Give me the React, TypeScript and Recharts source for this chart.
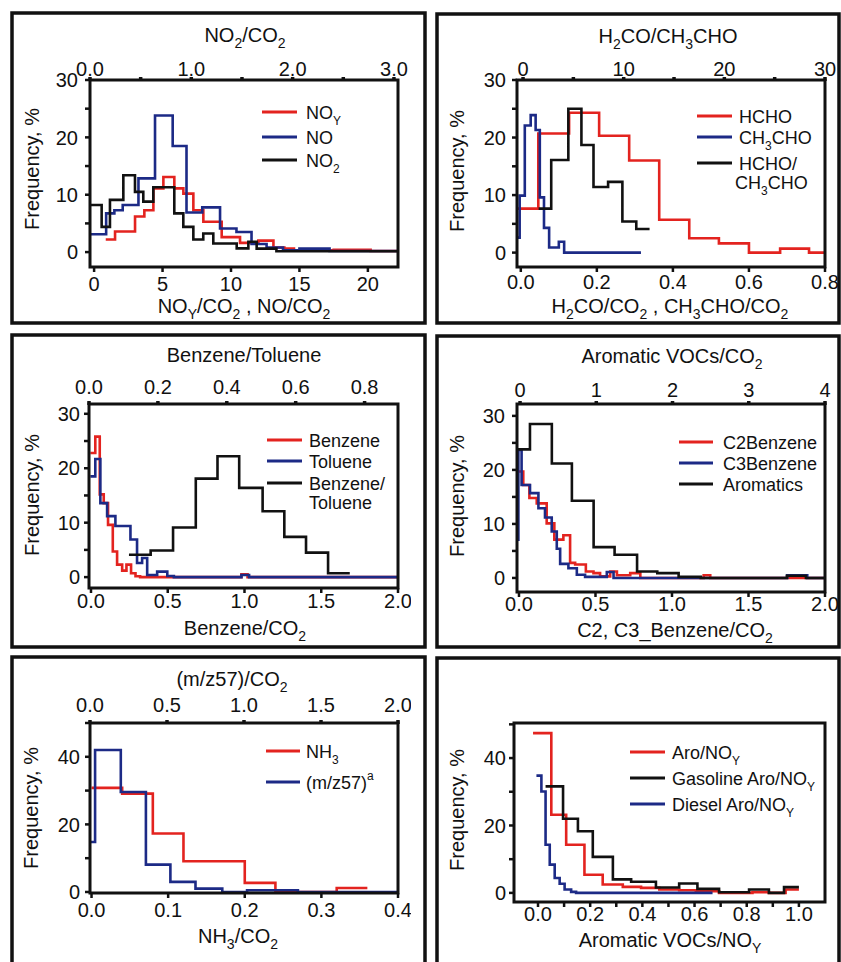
import React from "react"
import { LineChart, Line, XAxis, YAxis } from "recharts"

const FONT = "'Liberation Sans', Arial, Helvetica, sans-serif"
const RED = "#e3231f"
const BLUE = "#1c2a86"
const BLACK = "#111111"

// ---- panel 1: NOy, NO (bottom axis), NO2 (top axis)
const noyEdges = [0.85, 1.53, 2.99, 3.67, 4.33, 5.06, 5.86, 6.52, 7.25, 7.98, 9.32, 10.66, 12.0, 13.1, 13.9, 14.6, 17.5, 20.2, 22.2]
const noyFreq = [2.2, 3.6, 6.2, 7.3, 11.1, 13.1, 11.1, 10.2, 7.3, 5.3, 2.6, 1.6, 2.0, 0.8, 0.6, 0.3, 0.4, 0.2]
const noEdges = [-0.3, 0.88, 1.48, 2.09, 3.24, 4.45, 5.74, 6.75, 7.9, 9.2, 10.4, 11.5, 12.6, 13.8, 15.0, 17.2, 22.2]
const noFreq = [3.1, 6.75, 7.3, 8.2, 12.85, 23.8, 18.5, 6.9, 7.8, 4.1, 3.5, 1.4, 0.8, 0.3, 0.6, 0.2]
const no2Edges = [0, 0.115, 0.197, 0.329, 0.444, 0.526, 0.625, 0.832, 0.921, 1.02, 1.118, 1.217, 1.448, 1.563, 1.645, 1.84, 3.04]
const no2Freq = [8.2, 4.4, 9.1, 13.4, 10.5, 8.8, 11.3, 6.75, 4.4, 2.2, 3.25, 1.5, 0.65, 1.8, 0.6, 0.15]

// ---- panel 2: HCHO, CH3CHO (bottom), HCHO/CH3CHO (top)
const hchoEdges = [-0.01, 0.046, 0.127, 0.206, 0.285, 0.364, 0.443, 0.521, 0.6, 0.682, 0.758, 0.8]
const hchoFreq = [7.65, 20.7, 24.3, 20.3, 16.0, 5.7, 2.5, 1.6, 0, 0.7, 0]
const acetEdges = [-0.008, -0.003, 0.0105, 0.026, 0.039, 0.05, 0.061, 0.0745, 0.1, 0.114, 0.316]
const acetFreq = [2.6, 9.9, 22.1, 23.9, 21.3, 9.6, 4.3, 0.9, 1.9, 0]
const hcRatioEdges = [1.55, 2.8, 4.5, 5.8, 7.0, 8.45, 9.87, 11.25, 12.57]
const hcRatioFreq = [7.65, 16.1, 25.0, 18.7, 11.4, 12.3, 5.4, 4.1]

// ---- panel 3: Benzene, Toluene (bottom), Benzene/Toluene (top)
const benzEdges = [-0.004, 0.028, 0.057, 0.083, 0.111, 0.142, 0.17, 0.203, 0.231, 0.261, 0.29, 0.32, 0.98, 1.02, 2.0]
const benzFreq = [22.8, 25.8, 15.2, 13.6, 9.6, 4.7, 2.3, 1.2, 2.3, 0.7, 0.15, 0, 0.5, 0]
const toluEdges = [-0.004, 0.028, 0.061, 0.105, 0.159, 0.257, 0.3, 0.333, 0.366, 0.431, 0.497, 0.54, 0.98, 1.03, 2.0]
const toluFreq = [18.5, 21.7, 13.6, 11.2, 9.4, 6.9, 2.6, 3.5, 0.4, 1.0, 0.2, 0, 0.4, 0]
const btEdges = [0.116, 0.179, 0.244, 0.31, 0.373, 0.436, 0.504, 0.567, 0.63, 0.694, 0.757]
const btFreq = [4.1, 4.9, 9.1, 18.1, 22.2, 16.4, 12.1, 7.4, 4.5, 0.7]

// ---- panel 4: C2, C3 benzenes (bottom), aromatics (top)
const c2Edges = [0.0, 0.028, 0.068, 0.116, 0.181, 0.231, 0.29, 0.334, 0.367, 0.437, 0.487, 0.53, 0.596, 0.64, 0.727, 0.793, 1.207, 1.25, 2.0]
const c2Freq = [19.7, 17.2, 14.8, 13.8, 10.1, 7.1, 7.9, 2.8, 2.5, 1.2, 0.9, 0.3, 1.2, 0.5, 0.9, 0, 0.5, 0]
const c3Edges = [-0.012, -0.004, 0.017, 0.072, 0.127, 0.17, 0.214, 0.247, 0.269, 0.323, 0.378, 0.432, 0.574, 0.618, 1.753, 1.884, 2.0]
const c3Freq = [7.1, 23.7, 17.2, 15.7, 12.9, 11.2, 8.6, 5.4, 2.6, 1.8, 0.6, 0.2, 1.1, 0, 0.5, 0]
const aroEdges = [-0.035, 0.13, 0.417, 0.68, 0.965, 1.24, 1.535, 1.8, 2.08, 2.37, 3.5, 3.75, 4.0]
const aroFreq = [23.8, 28.5, 21.2, 14.3, 5.7, 4.3, 1.2, 0.9, 0.2, 0, 0.4, 0]

// ---- panel 5: NH3 (bottom), m/z57 (top)
const nh3Edges = [0, 0.04, 0.08, 0.12, 0.2, 0.24, 0.32, 0.36]
const nh3Freq = [30.8, 29.1, 17.3, 9.1, 2.7, 0, 1.2]
const mzEdges = [0, 0.033, 0.2, 0.363, 0.522, 0.685, 0.859, 1.02, 1.35, 2.0]
const mzFreq = [14.8, 42.0, 29.6, 8.1, 3.0, 1.0, 0, 0.5, 0]

// ---- panel 6: aromatics / NOy
const aroNoyEdges = [-0.019, 0.051, 0.108, 0.178, 0.248, 0.325, 0.395, 0.465, 0.541, 0.605, 0.694, 0.822, 0.885, 0.949, 1.0]
const aroNoyFreq = [47.4, 23.2, 14.3, 5.4, 2.5, 1.8, 1.5, 1.0, 0.8, 0.5, 0, 0.2, 0, 1.0]
const gasEdges = [0.029, 0.096, 0.153, 0.21, 0.287, 0.357, 0.452, 0.541, 0.611, 0.694, 0.809, 0.885, 0.943, 1.0]
const gasFreq = [31.6, 22.0, 18.3, 10.7, 4.0, 3.3, 1.6, 2.8, 1.2, 0.2, 1.0, 0.0, 1.7]
const dieselEdges = [-0.006, 0.013, 0.029, 0.045, 0.064, 0.083, 0.102, 0.127, 0.146, 0.669]
const dieselFreq = [34.8, 30.1, 14.3, 8.4, 4.4, 2.7, 1.0, 0.3, 0]

// ---- ticks
const freq30Ticks = [0, 5, 10, 15, 20, 25, 30]
const freq30Labels = [0, 10, 20, 30]
const freq50Ticks = [0, 10, 20, 30, 40, 50]
const freq50Labels = [0, 20, 40]
const p1BottomTicks = [0, 5, 10, 15, 20]
const p1TopTicks = [0, 0.5, 1, 1.5, 2, 2.5, 3]
const p1TopLabels = [0, 1, 2, 3]
const p2BottomTicks = [0, 0.2, 0.4, 0.6, 0.8]
const p2TopTicks = [0, 5, 10, 15, 20, 25, 30]
const p2TopLabels = [0, 10, 20, 30]
const halfTicks2 = [0, 0.5, 1, 1.5, 2]
const p3TopTicks = [0, 0.2, 0.4, 0.6, 0.8]
const p4TopTicks = [0, 1, 2, 3, 4]
const p5BottomTicks = [0, 0.1, 0.2, 0.3, 0.4]
const p6BottomTicks = [0, 0.1, 0.2, 0.3, 0.4, 0.5, 0.6, 0.7, 0.8, 0.9, 1.0]
const p6BottomLabels = [0, 0.2, 0.4, 0.6, 0.8, 1.0]

type Pt = { x: number; y: number }
function toSteps(edges: number[], freq: number[]): Pt[] {
  const pts = freq.map((f, i) => ({ x: edges[i], y: f }))
  pts.push({ x: edges[edges.length - 1], y: freq[freq.length - 1] })
  return pts
}

const f1 = (v: number) => v.toFixed(1)
const int = (v: number) => String(Math.round(v))

type AxisCfg = { domain: [number, number]; ticks: number[]; labels: number[]; fmt: (v: number) => string; gap: number }
type Series = { name: string; color: string; axis: "top" | "bottom"; data: Pt[] }
type PanelCfg = {
  plot: { left: number; top: number; right: number; bottom: number }
  xBottom: AxisCfg
  xTop?: AxisCfg
  y: AxisCfg
  series: Series[]
}

const panels: PanelCfg[] = [
  {
    plot: { left: 90, top: 80, right: 398, bottom: 267 },
    xBottom: { domain: [-0.3, 22.2], ticks: p1BottomTicks, labels: p1BottomTicks, fmt: int, gap: 10 },
    xTop: { domain: [0, 3.04], ticks: p1TopTicks, labels: p1TopLabels, fmt: f1, gap: 4 },
    y: { domain: [-2.6, 30], ticks: freq30Ticks, labels: freq30Labels, fmt: int, gap: 12 },
    series: [
      { name: "NOy", color: RED, axis: "bottom", data: toSteps(noyEdges, noyFreq) },
      { name: "NO", color: BLUE, axis: "bottom", data: toSteps(noEdges, noFreq) },
      { name: "NO2", color: BLACK, axis: "top", data: toSteps(no2Edges, no2Freq) },
    ],
  },
  {
    plot: { left: 517, top: 80, right: 825, bottom: 267 },
    xBottom: { domain: [-0.01, 0.8], ticks: p2BottomTicks, labels: p2BottomTicks, fmt: f1, gap: 8 },
    xTop: { domain: [-0.6, 30], ticks: p2TopTicks, labels: p2TopLabels, fmt: int, gap: 4 },
    y: { domain: [-2.5, 30], ticks: freq30Ticks, labels: freq30Labels, fmt: int, gap: 11 },
    series: [
      { name: "HCHO", color: RED, axis: "bottom", data: toSteps(hchoEdges, hchoFreq) },
      { name: "CH3CHO", color: BLUE, axis: "bottom", data: toSteps(acetEdges, acetFreq) },
      { name: "HCHO/CH3CHO", color: BLACK, axis: "top", data: toSteps(hcRatioEdges, hcRatioFreq) },
    ],
  },
  {
    plot: { left: 89, top: 404, right: 398, bottom: 588 },
    xBottom: { domain: [-0.013, 2.0], ticks: halfTicks2, labels: halfTicks2, fmt: f1, gap: 6 },
    xTop: { domain: [0, 0.897], ticks: p3TopTicks, labels: p3TopTicks, fmt: f1, gap: 10 },
    y: { domain: [-2, 31.8], ticks: freq30Ticks, labels: freq30Labels, fmt: int, gap: 9 },
    series: [
      { name: "Benzene", color: RED, axis: "bottom", data: toSteps(benzEdges, benzFreq) },
      { name: "Toluene", color: BLUE, axis: "bottom", data: toSteps(toluEdges, toluFreq) },
      { name: "Benzene/Toluene", color: BLACK, axis: "top", data: toSteps(btEdges, btFreq) },
    ],
  },
  {
    plot: { left: 517, top: 404, right: 825, bottom: 592 },
    xBottom: { domain: [-0.013, 2.0], ticks: halfTicks2, labels: halfTicks2, fmt: f1, gap: 5 },
    xTop: { domain: [-0.04, 4.0], ticks: p4TopTicks, labels: p4TopTicks, fmt: int, gap: 7 },
    y: { domain: [-2.6, 32.2], ticks: freq30Ticks, labels: freq30Labels, fmt: int, gap: 12 },
    series: [
      { name: "C2Benzene", color: RED, axis: "bottom", data: toSteps(c2Edges, c2Freq) },
      { name: "C3Benzene", color: BLUE, axis: "bottom", data: toSteps(c3Edges, c3Freq) },
      { name: "Aromatics", color: BLACK, axis: "top", data: toSteps(aroEdges, aroFreq) },
    ],
  },
  {
    plot: { left: 90, top: 723, right: 398, bottom: 893 },
    xBottom: { domain: [-0.002, 0.4], ticks: p5BottomTicks, labels: p5BottomTicks, fmt: f1, gap: 10 },
    xTop: { domain: [0, 2.0], ticks: halfTicks2, labels: halfTicks2, fmt: f1, gap: 11 },
    y: { domain: [-0.3, 50], ticks: freq50Ticks, labels: freq50Labels, fmt: int, gap: 10 },
    series: [
      { name: "NH3", color: RED, axis: "bottom", data: toSteps(nh3Edges, nh3Freq) },
      { name: "m/z57", color: BLUE, axis: "top", data: toSteps(mzEdges, mzFreq) },
    ],
  },
  {
    plot: { left: 514, top: 723, right: 825, bottom: 902 },
    xBottom: { domain: [-0.092, 1.1], ticks: p6BottomTicks, labels: p6BottomLabels, fmt: f1, gap: 5 },
    y: { domain: [-2.7, 50.4], ticks: freq50Ticks, labels: freq50Labels, fmt: int, gap: 8 },
    series: [
      { name: "Aro/NOy", color: RED, axis: "bottom", data: toSteps(aroNoyEdges, aroNoyFreq) },
      { name: "Gasoline", color: BLACK, axis: "bottom", data: toSteps(gasEdges, gasFreq) },
      { name: "Diesel", color: BLUE, axis: "bottom", data: toSteps(dieselEdges, dieselFreq) },
    ],
  },
]

const Y_W = 60
const X_H = 40
const RIGHT_W = 1
const R_M = 12
const TICK_LEN = 5
const TOP_TICK_LEN = 3
const textStyle = { fontFamily: FONT, fontSize: 20, fill: BLACK }

function tickFor(cfg: AxisCfg, side: "bottom" | "top" | "left") {
  return (props: any) => {
    const { x, y, payload } = props
    const v = payload.value
    if (!cfg.labels.some((l) => Math.abs(l - v) < 1e-6)) return <g />
    if (side === "left")
      return <text x={x} y={y} dy="0.36em" textAnchor="end" {...textStyle}>{cfg.fmt(v)}</text>
    if (side === "top")
      return <text x={x} y={y} textAnchor="middle" {...textStyle}>{cfg.fmt(v)}</text>
    return <text x={x} y={y} dy="0.72em" textAnchor="middle" {...textStyle}>{cfg.fmt(v)}</text>
  }
}

function Panel({ cfg }: { cfg: PanelCfg }) {
  const { plot } = cfg
  const pw = plot.right - plot.left
  const ph = plot.bottom - plot.top
  return (
    <div style={{ position: "absolute", left: plot.left - Y_W, top: plot.top - X_H }}>
      <LineChart width={Y_W + pw + RIGHT_W + R_M} height={X_H + ph + X_H} margin={{ top: 0, right: R_M, bottom: 0, left: 0 }}>
        <XAxis
          xAxisId="bottom" orientation="bottom" type="number" dataKey="x" height={X_H}
          domain={cfg.xBottom.domain} ticks={cfg.xBottom.ticks} allowDataOverflow interval={0}
          axisLine={false} tickLine={false} tickSize={TICK_LEN} tickMargin={cfg.xBottom.gap - TICK_LEN}
          tick={tickFor(cfg.xBottom, "bottom")}
        />
        {cfg.xTop ? (
          <XAxis
            xAxisId="top" orientation="top" type="number" dataKey="x" height={X_H}
            domain={cfg.xTop.domain} ticks={cfg.xTop.ticks} allowDataOverflow interval={0}
            axisLine={false} tickLine={false} tickSize={TOP_TICK_LEN}
            tickMargin={cfg.xTop.gap - TOP_TICK_LEN}
            tick={tickFor(cfg.xTop, "top")}
          />
        ) : (
          <XAxis
            xAxisId="top" orientation="top" type="number" dataKey="x" height={X_H}
            domain={cfg.xBottom.domain} allowDataOverflow axisLine={false} tickLine={false} tick={false}
          />
        )}
        <YAxis
          yAxisId="left" orientation="left" type="number" width={Y_W}
          domain={cfg.y.domain} ticks={cfg.y.ticks} allowDataOverflow interval={0}
          axisLine={false} tickLine={false} tickSize={TICK_LEN} tickMargin={cfg.y.gap - TICK_LEN}
          tick={tickFor(cfg.y, "left")}
        />
        <YAxis
          yAxisId="right" orientation="right" type="number" width={RIGHT_W}
          domain={cfg.y.domain} allowDataOverflow axisLine={false} tickLine={false} tick={false}
        />
        {cfg.series.map((s) => (
          <Line
            key={s.name} name={s.name} data={s.data} dataKey="y"
            xAxisId={s.axis} yAxisId="left" type="stepAfter"
            stroke={s.color} strokeWidth={2.6} dot={false} activeDot={false}
            isAnimationActive={false}
          />
        ))}
      </LineChart>
    </div>
  )
}

// frame and tick marks on the same linear mapping as the chart's plot area
function frameMarks(cfg: PanelCfg, key: number) {
  const { left, top, right, bottom } = cfg.plot
  const sx = (a: AxisCfg, v: number) => left + ((v - a.domain[0]) / (a.domain[1] - a.domain[0])) * (right - left)
  const sy = (v: number) => bottom - ((v - cfg.y.domain[0]) / (cfg.y.domain[1] - cfg.y.domain[0])) * (bottom - top)
  const out: React.ReactElement[] = []
  out.push(
    <rect key={`f${key}`} x={left} y={top} width={right - left} height={bottom - top} fill="none" stroke={BLACK} strokeWidth={3} />
  )
  cfg.y.ticks.forEach((v, i) =>
    out.push(<line key={`y${key}-${i}`} x1={left - TICK_LEN} x2={left} y1={sy(v)} y2={sy(v)} stroke={BLACK} strokeWidth={2.5} />)
  )
  cfg.xBottom.ticks.forEach((v, i) =>
    out.push(
      <line key={`b${key}-${i}`} x1={sx(cfg.xBottom, v)} x2={sx(cfg.xBottom, v)} y1={bottom} y2={bottom + TICK_LEN} stroke={BLACK} strokeWidth={2.5} />
    )
  )
  const xt = cfg.xTop
  if (xt)
    xt.ticks.forEach((v, i) =>
      out.push(
        <line key={`t${key}-${i}`} x1={sx(xt, v)} x2={sx(xt, v)} y1={top - TOP_TICK_LEN} y2={top + 1} stroke={BLACK} strokeWidth={3.5} />
      )
    )
  return out
}

// text with _{sub} and ^{sup}
function Rich({ x, y, text, anchor = "middle", size = 20, transform }: { x: number; y: number; text: string; anchor?: string; size?: number; transform?: string }) {
  const parts = text.split(/(_\{[^}]*\}|\^\{[^}]*\})/).filter(Boolean)
  let shift = 0
  const spans = parts.map((p, i) => {
    let dy = 0
    let content = p
    let fs = size
    if (p.startsWith("_{")) {
      content = p.slice(2, -1); dy = 6 - shift; shift = 6; fs = Math.round(size * 0.68)
    } else if (p.startsWith("^{")) {
      content = p.slice(2, -1); dy = -9 - shift; shift = -9; fs = Math.round(size * 0.68)
    } else {
      dy = -shift; shift = 0
    }
    return <tspan key={i} dy={dy} fontSize={fs}>{content}</tspan>
  })
  return (
    <text x={x} y={y} textAnchor={anchor as any} fontSize={size} fontFamily={FONT} fill={BLACK} transform={transform}>
      {spans}
    </text>
  )
}

const boxes = [
  { x: 12, y: 13, w: 413, h: 310 },
  { x: 437, y: 14, w: 402, h: 309 },
  { x: 12, y: 335, w: 413, h: 312 },
  { x: 437, y: 336, w: 402, h: 311 },
  { x: 12, y: 657, w: 413, h: 320 },
  { x: 437, y: 658, w: 402, h: 320 },
]

const titles = [
  { x: 245, y: 42, t: "NO_{2}/CO_{2}" },
  { x: 668, y: 43, t: "H_{2}CO/CH_{3}CHO" },
  { x: 244, y: 362, t: "Benzene/Toluene" },
  { x: 672, y: 363, t: "Aromatic VOCs/CO_{2}" },
  { x: 232, y: 686, t: "(m/z57)/CO_{2}" },
  { x: 244, y: 313, t: "NO_{Y}/CO_{2} , NO/CO_{2}" },
  { x: 670, y: 313, t: "H_{2}CO/CO_{2} , CH_{3}CHO/CO_{2}" },
  { x: 245, y: 635, t: "Benzene/CO_{2}" },
  { x: 675, y: 637, t: "C2, C3_Benzene/CO_{2}" },
  { x: 238, y: 943, t: "NH_{3}/CO_{2}" },
  { x: 670, y: 947, t: "Aromatic VOCs/NO_{Y}" },
]

const yLabels = [
  { x: 39, y: 169 },
  { x: 464, y: 171 },
  { x: 39, y: 495 },
  { x: 464, y: 496 },
  { x: 38, y: 808 },
  { x: 464, y: 810 },
]

const LEG = 18
const legends = [
  { x1: 262, x2: 297, tx: 306, rows: [[112, RED, "NO_{Y}"], [137, BLUE, "NO"], [160, BLACK, "NO_{2}"]] },
  { x1: 697, x2: 732, tx: 739, rows: [[116, RED, "HCHO"], [137, BLUE, "CH_{3}CHO"], [163, BLACK, "HCHO/"]] },
  { x1: 267, x2: 302, tx: 309, rows: [[440, RED, "Benzene"], [461, BLUE, "Toluene"], [483, BLACK, "Benzene/"]] },
  { x1: 679, x2: 713, tx: 723, rows: [[442, RED, "C2Benzene"], [463, BLUE, "C3Benzene"], [484, BLACK, "Aromatics"]] },
  { x1: 266, x2: 300, tx: 306, rows: [[751, RED, "NH_{3}"], [782, BLUE, "(m/z57)^{a}"]] },
  { x1: 630, x2: 665, tx: 672, rows: [[752, RED, "Aro/NO_{Y}"], [778, BLACK, "Gasoline Aro/NO_{Y}"], [804, BLUE, "Diesel Aro/NO_{Y}"]] },
]

export default function App() {
  return (
    <div style={{ position: "absolute", left: 0, top: 0, width: 841, height: 962, background: "#ffffff", overflow: "hidden" }}>
      {panels.map((p, i) => (
        <Panel key={i} cfg={p} />
      ))}
      <svg width={841} height={962} style={{ position: "absolute", left: 0, top: 0, zIndex: 5, pointerEvents: "none" }}>
        {boxes.map((b, i) => (
          <rect key={i} x={b.x} y={b.y} width={b.w} height={b.h} fill="none" stroke={BLACK} strokeWidth={3.5} />
        ))}
        {panels.map((p, i) => frameMarks(p, i))}
        {titles.map((t, i) => (
          <Rich key={i} x={t.x} y={t.y} text={t.t} />
        ))}
        {yLabels.map((l, i) => (
          <Rich key={i} x={0} y={0} text="Frequency, %" transform={`translate(${l.x},${l.y}) rotate(-90)`} />
        ))}
        {legends.map((lg, i) => (
          <g key={i}>
            {lg.rows.map((r, j) => (
              <g key={j}>
                <line x1={lg.x1} x2={lg.x2} y1={r[0] as number} y2={r[0] as number} stroke={r[1] as string} strokeWidth={3} />
                <Rich x={lg.tx} y={(r[0] as number) + 6.5} text={r[2] as string} anchor="start" size={LEG} />
              </g>
            ))}
          </g>
        ))}
        <Rich x={735} y={189} text="CH_{3}CHO" anchor="start" size={LEG} />
        <Rich x={309} y={509} text="Toluene" anchor="start" size={LEG} />
      </svg>
    </div>
  )
}
